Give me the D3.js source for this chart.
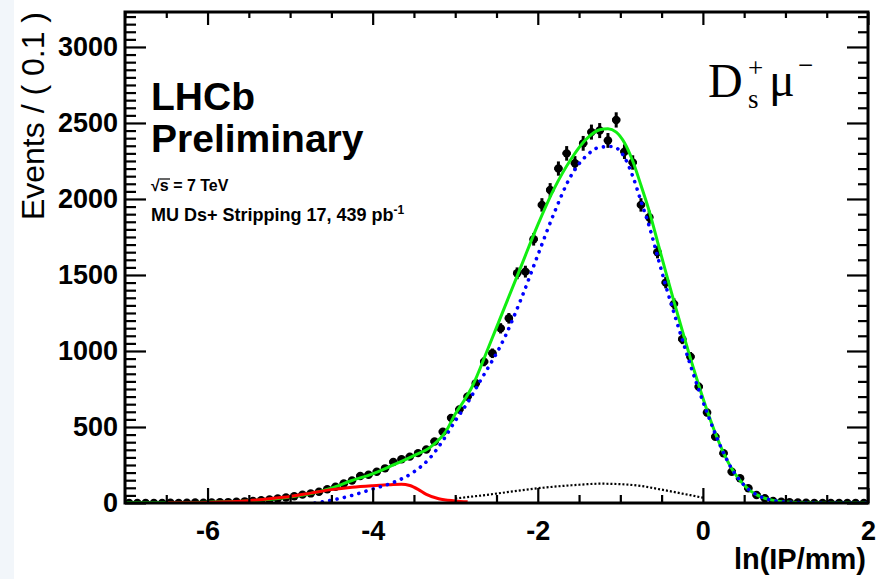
<!DOCTYPE html>
<html>
<head>
<meta charset="utf-8">
<script src="https://cdn.jsdelivr.net/npm/d3@7"></script>
<style>
  body { margin: 0; background: #ffffff; }
  svg { display: block; }
</style>
</head>
<body>
<svg id="chart" width="883" height="579"></svg>
<script>
// Histogram of ln(IP/mm): 90 bins of width 0.1 starting at -7
const binLow = -7;
const binWidth = 0.1;
const counts = [
  0, 1, 0, 1, 1, 2, 1, 2, 3, 2,
  4, 5, 6, 8, 11, 14, 18, 23, 30, 36,
  44, 55, 63, 74, 90, 107, 128, 148, 178, 186,
  206, 228, 270, 288, 305, 328, 352, 405, 469, 560,
  615, 700, 788, 930, 985, 1149, 1215, 1511, 1522, 1735,
  1961, 2059, 2200, 2300, 2235, 2366, 2440, 2450, 2385, 2520,
  2311, 2240, 1961, 1880, 1650, 1450, 1310, 1078, 962, 765,
  595, 436, 327, 206, 163, 97, 53, 31, 14, 8,
  5, 3, 2, 1, 1, 0, 1, 0, 0, 0
];

// Fit projections sampled as [ln(IP/mm), events]
const totalFit = [
  [-7.0, 1], [-6.5, 2], [-6.0, 5], [-5.5, 14], [-5.0, 40], [-4.75, 62], [-4.5, 98],
  [-4.25, 148], [-4.0, 192], [-3.75, 250], [-3.5, 312], [-3.3, 368], [-3.1, 482],
  [-3.0, 585], [-2.9, 668], [-2.8, 760], [-2.6, 1020], [-2.4, 1290], [-2.2, 1560],
  [-2.0, 1830], [-1.8, 2070], [-1.6, 2260], [-1.4, 2400], [-1.25, 2455], [-1.15, 2462],
  [-1.05, 2440], [-0.95, 2370], [-0.85, 2250], [-0.75, 2090], [-0.65, 1920], [-0.55, 1720],
  [-0.45, 1520], [-0.35, 1325], [-0.25, 1135], [-0.15, 950], [-0.05, 775], [0.05, 610],
  [0.15, 460], [0.25, 330], [0.35, 225], [0.45, 148], [0.55, 92], [0.65, 55], [0.75, 31],
  [0.85, 17], [0.95, 9], [1.1, 4], [1.3, 1.5], [1.6, 0.5], [2.0, 0]
];
const signalFit = [
  [-4.7, 0], [-4.5, 18], [-4.25, 50], [-4.0, 92], [-3.75, 135], [-3.5, 205], [-3.3, 300],
  [-3.15, 410], [-3.0, 540], [-2.85, 660], [-2.7, 800], [-2.4, 1090], [-2.2, 1345],
  [-2.0, 1630], [-1.8, 1910], [-1.6, 2150], [-1.4, 2290], [-1.25, 2340], [-1.1, 2345],
  [-0.95, 2275], [-0.85, 2150], [-0.75, 1985], [-0.65, 1820], [-0.55, 1625], [-0.45, 1430],
  [-0.35, 1250], [-0.25, 1075], [-0.15, 905], [-0.05, 745], [0.05, 595], [0.15, 455],
  [0.25, 330], [0.35, 225], [0.45, 148], [0.55, 92], [0.65, 55], [0.75, 31], [0.85, 17],
  [0.95, 9], [1.1, 4], [1.3, 1.5], [1.6, 0.5], [2.0, 0]
];
const promptFit = [
  [-6.5, 1], [-6.0, 4], [-5.5, 15], [-5.25, 28], [-5.0, 43], [-4.75, 65], [-4.5, 88],
  [-4.25, 104], [-4.0, 114], [-3.8, 120], [-3.65, 124], [-3.55, 115], [-3.45, 90],
  [-3.35, 57], [-3.2, 28], [-3.0, 14], [-2.85, 8]
];
const bkgFit = [
  [-3.0, 30], [-2.75, 45], [-2.5, 62], [-2.25, 80], [-2.0, 97], [-1.75, 110], [-1.5, 120],
  [-1.25, 127], [-1.0, 124], [-0.75, 112], [-0.5, 88], [-0.25, 62], [0.0, 35]
];

const xTickLabels = [-6, -4, -2, 0, 2];
const yTickLabels = [0, 500, 1000, 1500, 2000, 2500, 3000];

const frame = { left: 125, right: 868, top: 12, bottom: 503 };
const x = d3.scaleLinear().domain([-7, 2]).range([frame.left, frame.right]);
const y = d3.scaleLinear().domain([0, 3230]).range([frame.bottom, frame.top]);

const svg = d3.select("#chart");
const sans = "'Liberation Sans', Arial, Helvetica, sans-serif";
const serif = "'Liberation Serif', 'Times New Roman', serif";
const plain = d => String(d);   // hyphen-minus, as in the axis labels

// pale strip on the left edge of the canvas
svg.append("rect").attr("x", 0).attr("y", 0).attr("width", 14).attr("height", 579).attr("fill", "#f2f6fa");

svg.append("defs").append("clipPath").attr("id", "plotArea")
  .append("rect")
  .attr("x", frame.left).attr("y", frame.top)
  .attr("width", frame.right - frame.left).attr("height", frame.bottom - frame.top);

// ---- data points with error bars
const pts = svg.append("g").attr("clip-path", "url(#plotArea)");
const bins = counts.map((n, i) => ({ c: binLow + (i + 0.5) * binWidth, n }));
pts.selectAll("line.ey").data(bins.filter(d => d.n > 0)).join("line")
  .attr("x1", d => x(d.c)).attr("x2", d => x(d.c))
  .attr("y1", d => y(d.n - Math.sqrt(d.n))).attr("y2", d => y(d.n + Math.sqrt(d.n)))
  .attr("stroke", "#000").attr("stroke-width", 3);
pts.selectAll("line.ex").data(bins).join("line")
  .attr("x1", d => x(d.c - binWidth / 2)).attr("x2", d => x(d.c + binWidth / 2))
  .attr("y1", d => y(d.n)).attr("y2", d => y(d.n))
  .attr("stroke", "#000").attr("stroke-width", 3);
pts.selectAll("circle").data(bins).join("circle")
  .attr("cx", d => x(d.c)).attr("cy", d => y(d.n)).attr("r", 4.2)
  .attr("fill", "#000");

// ---- fit curves
const line = d3.line().x(d => x(d[0])).y(d => y(d[1])).curve(d3.curveMonotoneX);
const curves = svg.append("g").attr("clip-path", "url(#plotArea)").attr("fill", "none");
curves.append("path").datum(totalFit).attr("d", line)
  .attr("stroke", "#11ee11").attr("stroke-width", 3);
curves.append("path").datum(promptFit).attr("d", line)
  .attr("stroke", "#ff0000").attr("stroke-width", 3);
curves.append("path").datum(signalFit).attr("d", line)
  .attr("stroke", "#0000ff").attr("stroke-width", 3.6)
  .attr("stroke-linecap", "round").attr("stroke-dasharray", "0.1 7.4");
curves.append("path").datum(bkgFit).attr("d", line)
  .attr("stroke", "#000").attr("stroke-width", 2.2)
  .attr("stroke-dasharray", "2 2");

// ---- axes (ticks point into the frame)
const xMinor = d3.range(-7, 2.001, 0.5).filter(v => Math.abs(v % 2) > 1e-6);
const yMinorLeft = d3.range(0, 3230, 50).filter(v => v % 500 !== 0);
const yMinorRight = d3.range(0, 3230, 100).filter(v => v % 500 !== 0);

function styleAxis(g) {
  g.selectAll("path.domain").remove();
  g.selectAll(".tick line").attr("stroke", "#000").attr("stroke-width", 2.2);
  g.selectAll("text").attr("font-family", sans).attr("font-weight", "bold")
    .attr("font-size", 27).attr("fill", "#000");
}

// bottom
svg.append("g").attr("transform", `translate(0,${frame.bottom})`)
  .call(d3.axisBottom(x).tickValues(xTickLabels).tickSize(-15).tickPadding(18).tickFormat(plain))
  .call(styleAxis);
svg.append("g").attr("transform", `translate(0,${frame.bottom})`)
  .call(d3.axisBottom(x).tickValues(xMinor).tickSize(-8).tickFormat(""))
  .call(styleAxis);
// top
svg.append("g").attr("transform", `translate(0,${frame.top})`)
  .call(d3.axisTop(x).tickValues(xTickLabels).tickSize(-13).tickFormat(""))
  .call(styleAxis);
svg.append("g").attr("transform", `translate(0,${frame.top})`)
  .call(d3.axisTop(x).tickValues(xMinor).tickSize(-6).tickFormat(""))
  .call(styleAxis);
// left
svg.append("g").attr("transform", `translate(${frame.left},0)`)
  .call(d3.axisLeft(y).tickValues(yTickLabels).tickSize(-21).tickPadding(7).tickFormat(plain))
  .call(styleAxis);
svg.append("g").attr("transform", `translate(${frame.left},0)`)
  .call(d3.axisLeft(y).tickValues(yMinorLeft).tickSize(-11).tickFormat(""))
  .call(styleAxis);
// right
svg.append("g").attr("transform", `translate(${frame.right},0)`)
  .call(d3.axisRight(y).tickValues(yTickLabels).tickSize(-21).tickFormat(""))
  .call(styleAxis);
svg.append("g").attr("transform", `translate(${frame.right},0)`)
  .call(d3.axisRight(y).tickValues(yMinorRight).tickSize(-10).tickFormat(""))
  .call(styleAxis);

// frame
svg.append("rect")
  .attr("x", frame.left).attr("y", frame.top)
  .attr("width", frame.right - frame.left).attr("height", frame.bottom - frame.top)
  .attr("fill", "none").attr("stroke", "#000").attr("stroke-width", 3);

// ---- axis titles
svg.append("text")
  .attr("x", 866).attr("y", 569)
  .attr("text-anchor", "end")
  .attr("font-family", sans).attr("font-weight", "bold").attr("font-size", 29)
  .text("ln(IP/mm)");
svg.append("text")
  .attr("transform", "translate(44,12) rotate(-90)")
  .attr("text-anchor", "end")
  .attr("font-family", sans).attr("font-size", 32)
  .text("Events / ( 0.1 )");

// ---- labels inside the frame
const label = svg.append("g").attr("font-family", sans).attr("font-weight", "bold").attr("fill", "#000");
label.append("text").attr("x", 151).attr("y", 110).attr("font-size", 39).text("LHCb");
label.append("text").attr("x", 151).attr("y", 152).attr("font-size", 39).text("Preliminary");

const rs = label.append("text").attr("x", 151).attr("y", 191).attr("font-size", 16);
rs.append("tspan").text("\u221A");
rs.append("tspan").text("s = 7 TeV");
label.append("line").attr("x1", 160).attr("x2", 170).attr("y1", 179).attr("y2", 179)
  .attr("stroke", "#000").attr("stroke-width", 1.2);

const lumi = label.append("text").attr("x", 151).attr("y", 221).attr("font-size", 18);
lumi.append("tspan").text("MU Ds+ Stripping 17, 439 pb");
lumi.append("tspan").attr("dy", -7).attr("font-size", 12).text("-1");

const decay = svg.append("g").attr("font-family", serif).attr("fill", "#000");
decay.append("text").attr("x", 708).attr("y", 97).attr("font-size", 48).text("D");
decay.append("text").attr("x", 748).attr("y", 108).attr("font-size", 27).text("s");
decay.append("text").attr("x", 748).attr("y", 77).attr("font-size", 27).text("+");
decay.append("text").attr("x", 769).attr("y", 96).attr("font-size", 48).text("\u03BC");
decay.append("text").attr("x", 798).attr("y", 74).attr("font-size", 27).text("\u2212");
</script>
</body>
</html>
